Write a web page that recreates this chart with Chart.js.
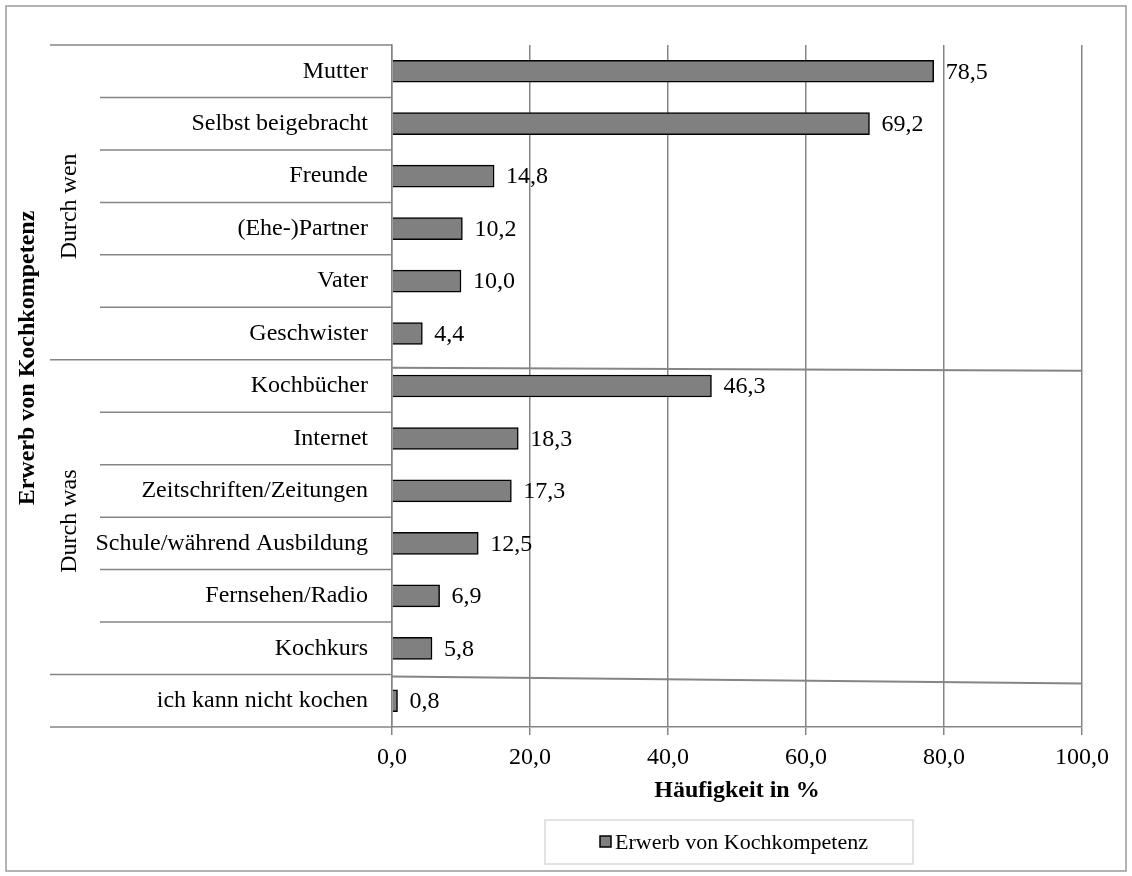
<!DOCTYPE html>
<html>
<head>
<meta charset="utf-8">
<script src="https://cdn.jsdelivr.net/npm/chart.js@4.4.0/dist/chart.umd.min.js"></script>
<style>
  html, body { margin: 0; padding: 0; background: #fff; }
  #c { display: block; }
</style>
</head>
<body>
<canvas id="c" width="1132" height="876"></canvas>
<script>
// --- Daten ---
const categories = ['Mutter', 'Selbst beigebracht', 'Freunde', '(Ehe-)Partner', 'Vater', 'Geschwister',
  'Kochbücher', 'Internet', 'Zeitschriften/Zeitungen', 'Schule/während Ausbildung', 'Fernsehen/Radio', 'Kochkurs',
  'ich kann nicht kochen'];
const values = [78.5, 69.2, 14.8, 10.2, 10.0, 4.4, 46.3, 18.3, 17.3, 12.5, 6.9, 5.8, 0.8];
const groupNames = ['Durch wen', 'Durch was'];
const groupSizes = [6, 6];   // letzte Kategorie gehört zu keiner Gruppe
const xTicks = [0, 20, 40, 60, 80, 100];
const seriesName = 'Erwerb von Kochkompetenz';
const xTitle = 'Häufigkeit in %';
const yTitle = 'Erwerb von Kochkompetenz';

const FONT = "'Liberation Serif', 'Times New Roman', serif";
const GRID = '#858585';
const fmt = v => v.toFixed(1).replace('.', ',');

// Zeichnet Rahmen, Kategorie-Linien, Gruppen, Achsentitel und Legende
const decor = {
  id: 'decor',
  beforeDraw(chart) {
    const ctx = chart.ctx;
    ctx.save();
    ctx.fillStyle = '#fff';
    ctx.fillRect(0, 0, chart.width, chart.height);
    ctx.strokeStyle = '#9a9a9a';
    ctx.lineWidth = 1.5;
    ctx.strokeRect(6, 6, chart.width - 12, chart.height - 11);
    ctx.restore();
  },
  afterDatasetsDraw(chart) {
    const ctx = chart.ctx;
    const y = chart.scales.y, x = chart.scales.x;
    const step = (y.bottom - y.top) / categories.length;
    const x0 = x.getPixelForValue(0), x1 = x.getPixelForValue(100);

    // Kategorie-Trennlinien links der Achse
    const bounds = [0];
    groupSizes.reduce((acc, n) => { bounds.push(acc + n); return acc + n; }, 0);
    bounds.push(categories.length);
    ctx.save();
    ctx.strokeStyle = GRID;
    ctx.lineWidth = 1.5;
    for (let i = 0; i <= categories.length; i++) {
      const yy = y.top + i * step;
      const start = bounds.includes(i) ? 50 : 100;
      ctx.beginPath();
      ctx.moveTo(start, yy);
      ctx.lineTo(x0, yy);
      ctx.stroke();
    }
    // schräge Trennlinien im Diagramm
    ctx.lineWidth = 2;
    [[bounds[1], 8, 11], [bounds[2], 2, 9]].forEach(([b, d0, d1]) => {
      const yy = y.top + b * step;
      ctx.beginPath();
      ctx.moveTo(x0, yy + d0);
      ctx.lineTo(x1, yy + d1);
      ctx.stroke();
    });

    // Gruppenbeschriftungen
    ctx.fillStyle = '#000';
    ctx.textAlign = 'center';
    ctx.textBaseline = 'middle';
    ctx.font = '24px ' + FONT;
    groupNames.forEach((g, k) => {
      const cy = y.top + (bounds[k] + bounds[k + 1]) / 2 * step;
      ctx.save();
      ctx.translate(70, cy + 4);
      ctx.rotate(-Math.PI / 2);
      ctx.fillText(g, 0, 0);
      ctx.restore();
    });

    // Achsentitel links
    ctx.font = 'bold 24px ' + FONT;
    ctx.save();
    ctx.translate(28, 358);
    ctx.rotate(-Math.PI / 2);
    ctx.fillText(yTitle, 0, 0);
    ctx.restore();

    // Datenbeschriftungen
    ctx.font = '24px ' + FONT;
    ctx.textAlign = 'left';
    const meta = chart.getDatasetMeta(0);
    meta.data.forEach((bar, i) => {
      ctx.fillText(fmt(values[i]), bar.x + 12, bar.y + 1);
    });

    // Legende
    const lx = 545, ly = 820, lw = 368, lh = 44;
    ctx.strokeStyle = '#d9d9d9';
    ctx.lineWidth = 1.5;
    ctx.strokeRect(lx, ly, lw, lh);
    ctx.fillStyle = '#808080';
    ctx.fillRect(600, ly + lh / 2 - 6, 11, 11);
    ctx.strokeStyle = '#000';
    ctx.lineWidth = 1.5;
    ctx.strokeRect(600, ly + lh / 2 - 6, 11, 11);
    ctx.fillStyle = '#000';
    ctx.font = '22px ' + FONT;
    ctx.fillText(seriesName, 615, ly + lh / 2 + 1);
    ctx.restore();
  }
};

new Chart(document.getElementById('c'), {
  type: 'bar',
  data: {
    labels: categories,
    datasets: [{
      label: seriesName,
      data: values,
      backgroundColor: '#808080',
      borderColor: '#000',
      borderWidth: 1.5,
      barThickness: 22
    }]
  },
  options: {
    indexAxis: 'y',
    responsive: false,
    animation: false,
    layout: { padding: { top: 45, right: 50, left: 0, bottom: 0 } },
    plugins: { legend: { display: false }, tooltip: { enabled: false } },
    scales: {
      x: {
        min: 0, max: 100,
        afterBuildTicks: s => { s.ticks = xTicks.map(v => ({ value: v })); },
        afterFit: s => { s.height = 149; },
        ticks: { callback: v => fmt(v), color: '#000', font: { family: FONT, size: 24 }, padding: 8, maxRotation: 0 },
        grid: { color: GRID, lineWidth: 1.5, tickLength: 8 },
        border: { display: true, color: GRID, width: 1.5 },
        title: { display: true, text: xTitle, color: '#000', font: { family: FONT, size: 24, weight: 'bold' }, padding: { top: 0, bottom: 71 } }
      },
      y: {
        afterFit: s => { s.width = 392; },
        ticks: { color: '#000', font: { family: FONT, size: 24 }, padding: 16 },
        grid: { display: false },
        border: { display: true, color: GRID, width: 1.5 }
      }
    }
  },
  plugins: [decor]
});
</script>
</body>
</html>
